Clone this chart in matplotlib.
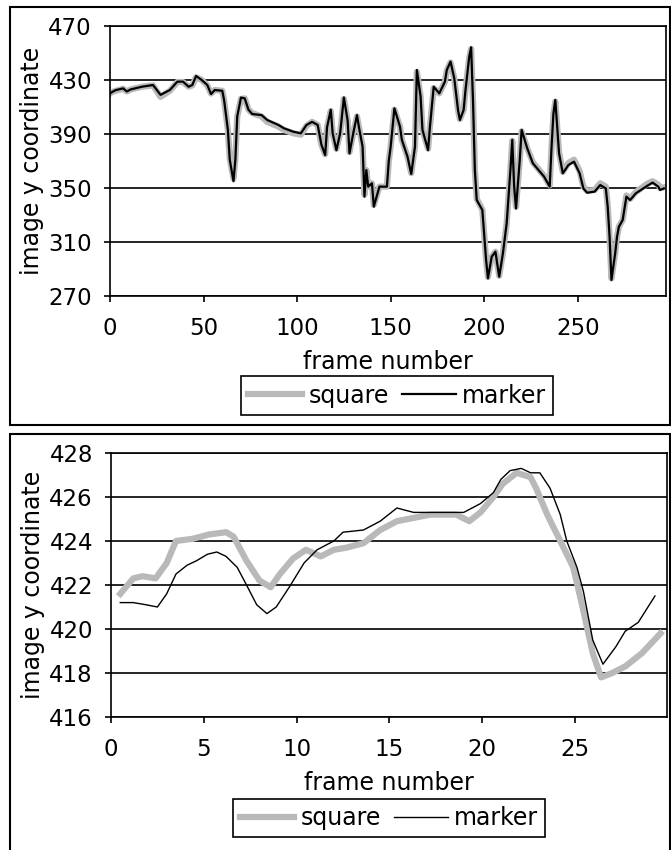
import matplotlib
matplotlib.use("Agg")
import matplotlib.pyplot as plt
from matplotlib.patches import Rectangle

# ---------------- data ----------------
top_frames = [0, 1, 3, 7, 9, 11, 17, 23, 27, 32, 36, 39, 42, 44, 46, 49, 52, 54, 56, 60,
              61, 63, 64, 66, 67, 68, 70, 72, 74, 76, 81, 84, 90, 93, 98, 102, 105, 108, 111, 113,
              115, 116, 118, 119, 121, 123, 125, 127, 128, 130, 132, 133, 135, 136, 137, 138, 140, 141, 144, 148,
              149, 150, 152, 155, 156, 159, 161, 163, 164, 166, 167, 170, 171, 173, 176, 179, 180, 182, 184, 186,
              187, 189, 190, 192, 193, 194, 195, 196, 199, 201, 202, 204, 206, 208, 210, 212, 214, 215, 216, 217,
              219, 220, 223, 226, 229, 232, 235, 236, 237, 238, 240, 242, 245, 248, 251, 253, 255, 259, 262, 265,
              266, 267, 268, 270, 271, 272, 274, 276, 278, 281, 285, 287, 290, 293, 294, 296]
top_marker = [420, 421, 422.5, 423.8, 421.5, 423, 425, 426.3, 419, 422.6, 428.8, 428.8, 425, 426.3, 433, 430, 426.3, 419.6, 422.6, 422,
              415, 393, 371, 355, 371, 403, 417, 416.4, 408, 404.8, 404, 400.4, 396.7, 394.2, 391.7, 390.5, 396.7, 399, 396.7, 382,
              374.4, 395, 408, 390.5, 378, 390.5, 417, 400, 375.7, 390.5, 404, 395.4, 380.6, 343.6, 363.3, 351, 353.5, 336.2, 351, 351,
              370, 380.6, 409, 395.4, 385.6, 373.2, 360.4, 380.6, 437.4, 417.7, 393, 378.1, 395.4, 425, 420.1, 428.8, 437.4, 443.6, 431.2, 407.8,
              400.4, 407.8, 422.6, 447.3, 454.2, 415.2, 363.3, 341.1, 333.7, 296.7, 283.1, 299.1, 302.8, 284.3, 301.6, 323.8, 363.3, 385.6, 351, 334.9,
              370.7, 393, 379.4, 368.3, 363.3, 358.4, 351, 380.6, 405.3, 415.2, 375.7, 360.9, 367, 369.5, 360.9, 349.7, 346.5, 347.3, 352.2, 349.7,
              336.2, 314, 281.9, 301.6, 314, 321.4, 326.3, 343.6, 341.1, 346, 349.7, 351.5, 354, 351, 348.5, 349.7]
top_square = [420, 421, 422, 423.5, 421.5, 423, 425, 426, 417.5, 422, 428.5, 428.5, 425, 426, 432, 430, 426, 420, 422.6, 422,
              415, 393, 372, 357, 372, 403, 416, 416.4, 408, 405.5, 403, 399, 395.5, 393, 390.5, 389.5, 396, 399, 396.7, 382,
              375, 395, 407, 390.5, 379, 390.5, 416, 400, 376.5, 390.5, 403, 395.4, 381, 345, 363.3, 351, 353.5, 337.5, 351, 351,
              370, 380.6, 408, 395.4, 385.6, 373.2, 361, 380.6, 436, 417.7, 393, 379, 395.4, 424, 420.1, 428.8, 437, 443, 431.2, 407.8,
              401, 407.8, 422.6, 446.5, 453, 415.2, 364, 342, 334, 297, 284, 299.1, 302.8, 285, 301.6, 323.8, 363.3, 385, 351, 336,
              370.7, 392, 379.4, 369, 364, 359, 352, 380.6, 404, 414, 376.5, 362, 368.5, 371, 362.5, 351, 348, 348.5, 353.5, 351,
              337, 314, 283, 301.6, 314, 321.4, 326.3, 344.5, 342, 347, 351, 353, 355, 352.5, 350, 350.5]

bot_marker_frames = [0.5, 1.2, 1.9, 2.5, 3.0, 3.5, 4.1, 4.6, 5.2, 5.7, 6.2, 6.8, 7.3, 7.85, 8.4, 8.9, 9.6, 10.4, 11.1, 12.0,
                     12.5, 13.6, 14.5, 15.4, 16.3, 18.1, 19.0, 19.9, 20.6, 21.0, 21.5, 22.1, 22.6, 23.1, 23.65, 24.2, 24.55, 25.1, 25.45, 25.95,
                     26.5, 27.2, 27.7, 28.4, 29.3]
bot_marker = [421.2, 421.2, 421.1, 421.0, 421.6, 422.5, 422.9, 423.1, 423.4, 423.5, 423.3, 422.8, 422.0, 421.1, 420.7, 421.0, 421.9, 423.0, 423.6, 424.0,
              424.4, 424.5, 424.9, 425.5, 425.3, 425.3, 425.3, 425.7, 426.2, 426.8, 427.2, 427.3, 427.1, 427.1, 426.4, 425.2, 424.0, 422.8, 421.7, 419.5,
              418.4, 419.2, 419.9, 420.3, 421.5]
bot_square_frames = [0.5, 1.2, 1.7, 2.4, 3.0, 3.5, 4.4, 5.3, 6.2, 6.6, 7.3, 8.0, 8.6, 9.1, 9.8, 10.5, 11.3, 12.0, 12.7, 13.6,
                     14.5, 15.4, 17.2, 18.6, 19.3, 19.9, 20.6, 21.1, 21.85, 22.6, 22.9, 23.5, 24.2, 24.9, 25.4, 25.95, 26.4, 27.0, 27.7, 28.6,
                     29.6]
bot_square = [421.6, 422.3, 422.4, 422.3, 423.0, 424.0, 424.1, 424.3, 424.4, 424.2, 423.1, 422.2, 421.9, 422.5, 423.2, 423.6, 423.3, 423.6, 423.7, 423.9,
              424.5, 424.9, 425.2, 425.2, 424.9, 425.3, 426.0, 426.6, 427.1, 426.9, 426.4, 425.2, 424.0, 422.8, 421.0, 418.9, 417.8, 418.0, 418.3, 418.9,
              419.8]

top_yticks = [270, 310, 350, 390, 430, 470]
top_xticks = [0, 50, 100, 150, 200, 250]
bot_yticks = [416, 418, 420, 422, 424, 426, 428]
bot_xticks = [0, 5, 10, 15, 20, 25]

# ---------------- style ----------------
plt.rcParams['font.family'] = ['DejaVu Sans']
FS = 16.5
LFS = 17
GRAY = '#b9b9b9'
W, H = 671, 850
fig = plt.figure(figsize=(W / 100, H / 100), dpi=100)
fig.patch.set_facecolor('white')

# panel borders
fig.patches.append(Rectangle((10 / W, 1 - 425 / H), 660 / W, 418 / H, transform=fig.transFigure,
                             fill=False, edgecolor='black', linewidth=1.5))
fig.patches.append(Rectangle((10 / W, -0.01), 660 / W, 1 - 434 / H + 0.01, transform=fig.transFigure,
                             fill=False, edgecolor='black', linewidth=1.5))


def style_axes(ax, xlim, ylim, xticks, yticks):
    ax.set_xlim(*xlim)
    ax.set_ylim(*ylim)
    ax.set_xticks(xticks)
    ax.set_yticks(yticks)
    ax.yaxis.grid(True, color='black', linewidth=1.2)
    ax.set_axisbelow(True)
    for s in ax.spines.values():
        s.set_color('black')
        s.set_linewidth(1.2)
    ax.tick_params(axis='both', direction='out', length=4, width=1.2, labelsize=FS, colors='black')
    ax.tick_params(axis='y', pad=9)
    ax.tick_params(axis='x', pad=11)
    ax.set_xlabel('frame number', fontsize=LFS, labelpad=7)
    ax.set_ylabel('image y coordinate', fontsize=LFS, labelpad=3)


def add_legend(handles, center):
    leg = fig.legend(handles=handles, loc='center', bbox_to_anchor=center, ncol=2,
                     fontsize=LFS, frameon=True, fancybox=False, edgecolor='black', handlelength=2.3,
                     handletextpad=0.25, columnspacing=0.55, borderpad=0.3, framealpha=1)
    leg.get_frame().set_linewidth(1.2)
    return leg


# top chart
ax1 = fig.add_axes([110 / W, 1 - 296 / H, 555.7 / W, 270 / H])
l1, = ax1.plot(top_frames, top_square, color=GRAY, linewidth=4.5, solid_joinstyle='round', label='square')
l2, = ax1.plot(top_frames, top_marker, color='black', linewidth=1.6, label='marker')
style_axes(ax1, (0, 297), (270, 470), top_xticks, top_yticks)
add_legend([l1, l2], (397 / W, 1 - 395.5 / H))

# bottom chart
ax2 = fig.add_axes([111 / W, 1 - 717 / H, 556 / W, 264 / H])
m1, = ax2.plot(bot_square_frames, bot_square, color=GRAY, linewidth=4.5, solid_joinstyle='round', label='square')
m2, = ax2.plot(bot_marker_frames, bot_marker, color='black', linewidth=1.0, label='marker')
style_axes(ax2, (0, 29.95), (416, 428), bot_xticks, bot_yticks)
add_legend([m1, m2], (389 / W, 1 - 818 / H))

fig.savefig('out.png', dpi=100, facecolor='white')
